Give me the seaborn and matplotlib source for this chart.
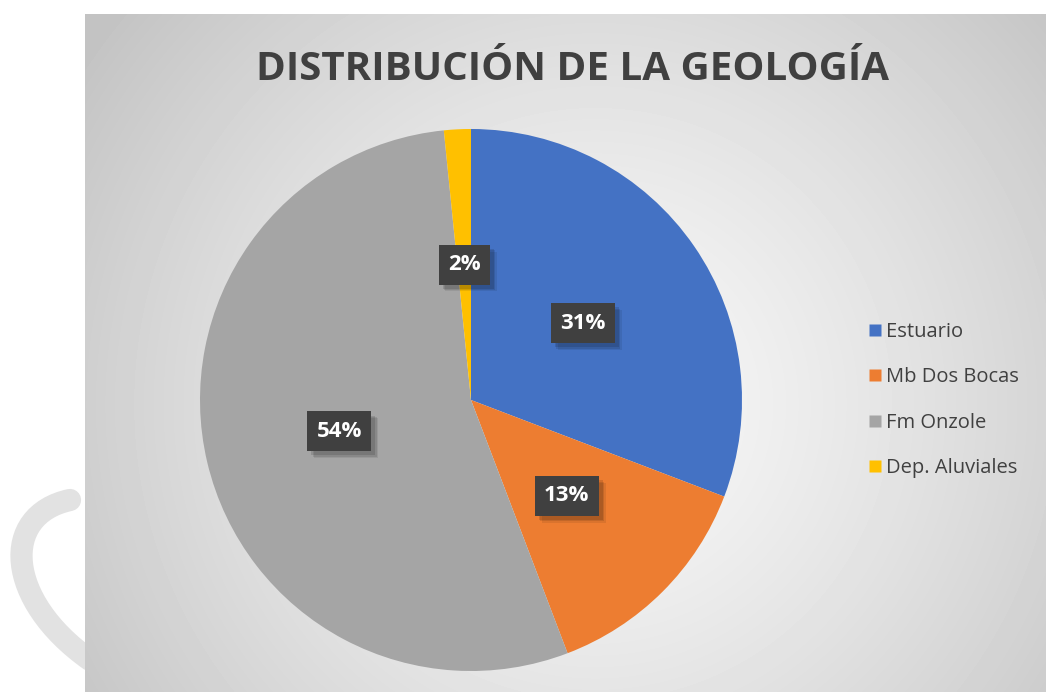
import matplotlib
matplotlib.use("Agg")
import matplotlib.pyplot as plt
import matplotlib.patheffects as pe
from matplotlib.patches import PathPatch
from matplotlib.path import Path
from matplotlib.lines import Line2D
import seaborn as sns
import numpy as np

# data
categories = ["Estuario", "Mb Dos Bocas", "Fm Onzole", "Dep. Aluviales"]
shares = [30.8, 13.4, 54.2, 1.6]
colors = ["#4472C4", "#ED7D31", "#A5A5A5", "#FFC000"]
title = "DISTRIBUCIÓN DE LA GEOLOGÍA"

sns.set_theme(style="white")
plt.rcParams["font.family"] = ["Open Sans", "DejaVu Sans"]
palette = sns.color_palette(colors)

W, H = 1046, 692
fig = plt.figure(figsize=(W / 100, H / 100), dpi=100)
fig.patch.set_facecolor("white")

# faint watermark hook on the left margin
wm = fig.add_axes([0, 0, 1, 1])
wm.set_xlim(0, W)
wm.set_ylim(H, 0)
wm.axis("off")
hook = Path([(70, 500), (0, 515), (5, 600), (90, 660)],
            [Path.MOVETO, Path.CURVE4, Path.CURVE4, Path.CURVE4])
wm.add_patch(PathPatch(hook, fc="none", ec="#e2e2e2", lw=16, capstyle="round"))

# chart area with radial gradient
x0, y0 = 85, 14
bg = fig.add_axes([x0 / W, 0, (W - x0) / W, (H - y0) / H])
yy, xx = np.mgrid[0:H - y0, 0:W - x0]
cx, cy = 510, 390
d = np.sqrt((xx - cx) ** 2 + (yy - cy) ** 2) / 620
d = np.clip(d, 0, 1)
shade = 0.975 - 0.21 * d ** 1.3
bg.imshow(shade, cmap="gray", vmin=0, vmax=1, aspect="auto", interpolation="bilinear")
bg.axis("off")

fig.text(573 / W, 1 - 69 / H, title, ha="center", va="center",
         fontsize=29, fontweight="bold", color="#404040")

# pie
r = 271
pcx, pcy = 471, 400
ax = fig.add_axes([(pcx - r) / W, (H - pcy - r) / H, 2 * r / W, 2 * r / H])
wedges, texts, autotexts = ax.pie(
    shares, colors=palette, startangle=90, counterclock=False,
    autopct="%.0f%%", pctdistance=0.5, radius=1,
    wedgeprops=dict(linewidth=0),
    textprops=dict(color="white", fontsize=16, fontweight="bold"))
ax.set_xlim(-1, 1)
ax.set_ylim(-1, 1)
ax.set_aspect("equal")
ax.axis("off")

# soft drop shadow behind the dark label boxes
for t in autotexts:
    t.set_bbox(dict(boxstyle="square,pad=0.42", fc="#404040", ec="none"))
    t.get_bbox_patch().set_path_effects([
        pe.SimplePatchShadow(offset=(5, -5), shadow_rgbFace="black", alpha=0.08),
        pe.SimplePatchShadow(offset=(4, -4), shadow_rgbFace="black", alpha=0.1),
        pe.SimplePatchShadow(offset=(3, -3), shadow_rgbFace="black", alpha=0.12),
        pe.Normal()])

handles = [Line2D([0], [0], marker="s", linestyle="none", markersize=9,
                  markerfacecolor=c, markeredgecolor="none") for c in colors]
fig.legend(handles, categories, loc="center left",
           bbox_to_anchor=(847 / W, 1 - 400 / H), frameon=False,
           fontsize=14.5, labelcolor="#404040", handletextpad=0.05,
           labelspacing=1.25, handlelength=1.0)

fig.savefig("out.png", dpi=100)
